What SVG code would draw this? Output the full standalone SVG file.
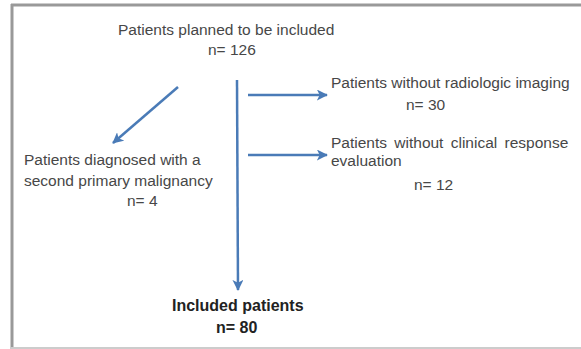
<svg xmlns="http://www.w3.org/2000/svg" width="581" height="349" viewBox="0 0 581 349">
<defs>
<style>
.t{font-family:"Liberation Sans",Arial,sans-serif;font-size:15.5px;fill:#474747;}
.b{font-family:"Liberation Sans",Arial,sans-serif;font-size:16px;font-weight:bold;fill:#222;}
.c{stroke:#4a7bb7;stroke-width:2.5;fill:none;}
</style>
<marker id="ah" viewBox="0 0 12 12" refX="11" refY="6" markerWidth="11" markerHeight="11" markerUnits="userSpaceOnUse" orient="auto">
<path d="M0,0 L12,6 L0,12 L3,6 Z" fill="#4a7bb7"/>
</marker>
</defs>
<rect x="0" y="0" width="581" height="349" fill="#ffffff"/>
<g id="frame">
<line x1="11" y1="5" x2="581" y2="5" stroke="#999" stroke-width="3"/>
<line x1="12" y1="4" x2="12" y2="349" stroke="#999" stroke-width="3"/>
<line x1="11" y1="348" x2="581" y2="348" stroke="#ccc" stroke-width="2"/>
</g>
<g id="connectors">
<line class="c" x1="237" y1="80" x2="238" y2="290" marker-end="url(#ah)"/>
<line class="c" x1="178" y1="87" x2="113" y2="143" marker-end="url(#ah)"/>
<line class="c" x1="248" y1="95" x2="327" y2="95" marker-end="url(#ah)"/>
<line class="c" x1="248" y1="155" x2="327" y2="155" marker-end="url(#ah)"/>
</g>
<g id="planned">
<text class="t" x="118" y="35">Patients planned to be included</text>
<text class="t" x="208" y="55">n= 126</text>
</g>
<g id="no-imaging">
<text class="t" x="331" y="88">Patients without radiologic imaging</text>
<text class="t" x="406" y="110">n= 30</text>
</g>
<g id="second-malignancy">
<text class="t" x="24" y="165">Patients diagnosed with a</text>
<text class="t" x="24" y="186">second primary malignancy</text>
<text class="t" x="127" y="206">n= 4</text>
</g>
<g id="no-evaluation">
<text class="t" x="331" y="148" word-spacing="3">Patients without clinical response</text>
<text class="t" x="331" y="166">evaluation</text>
<text class="t" x="414" y="190">n= 12</text>
</g>
<g id="included">
<text class="b" x="172" y="311">Included patients</text>
<text class="b" x="216" y="333">n= 80</text>
</g>
</svg>
